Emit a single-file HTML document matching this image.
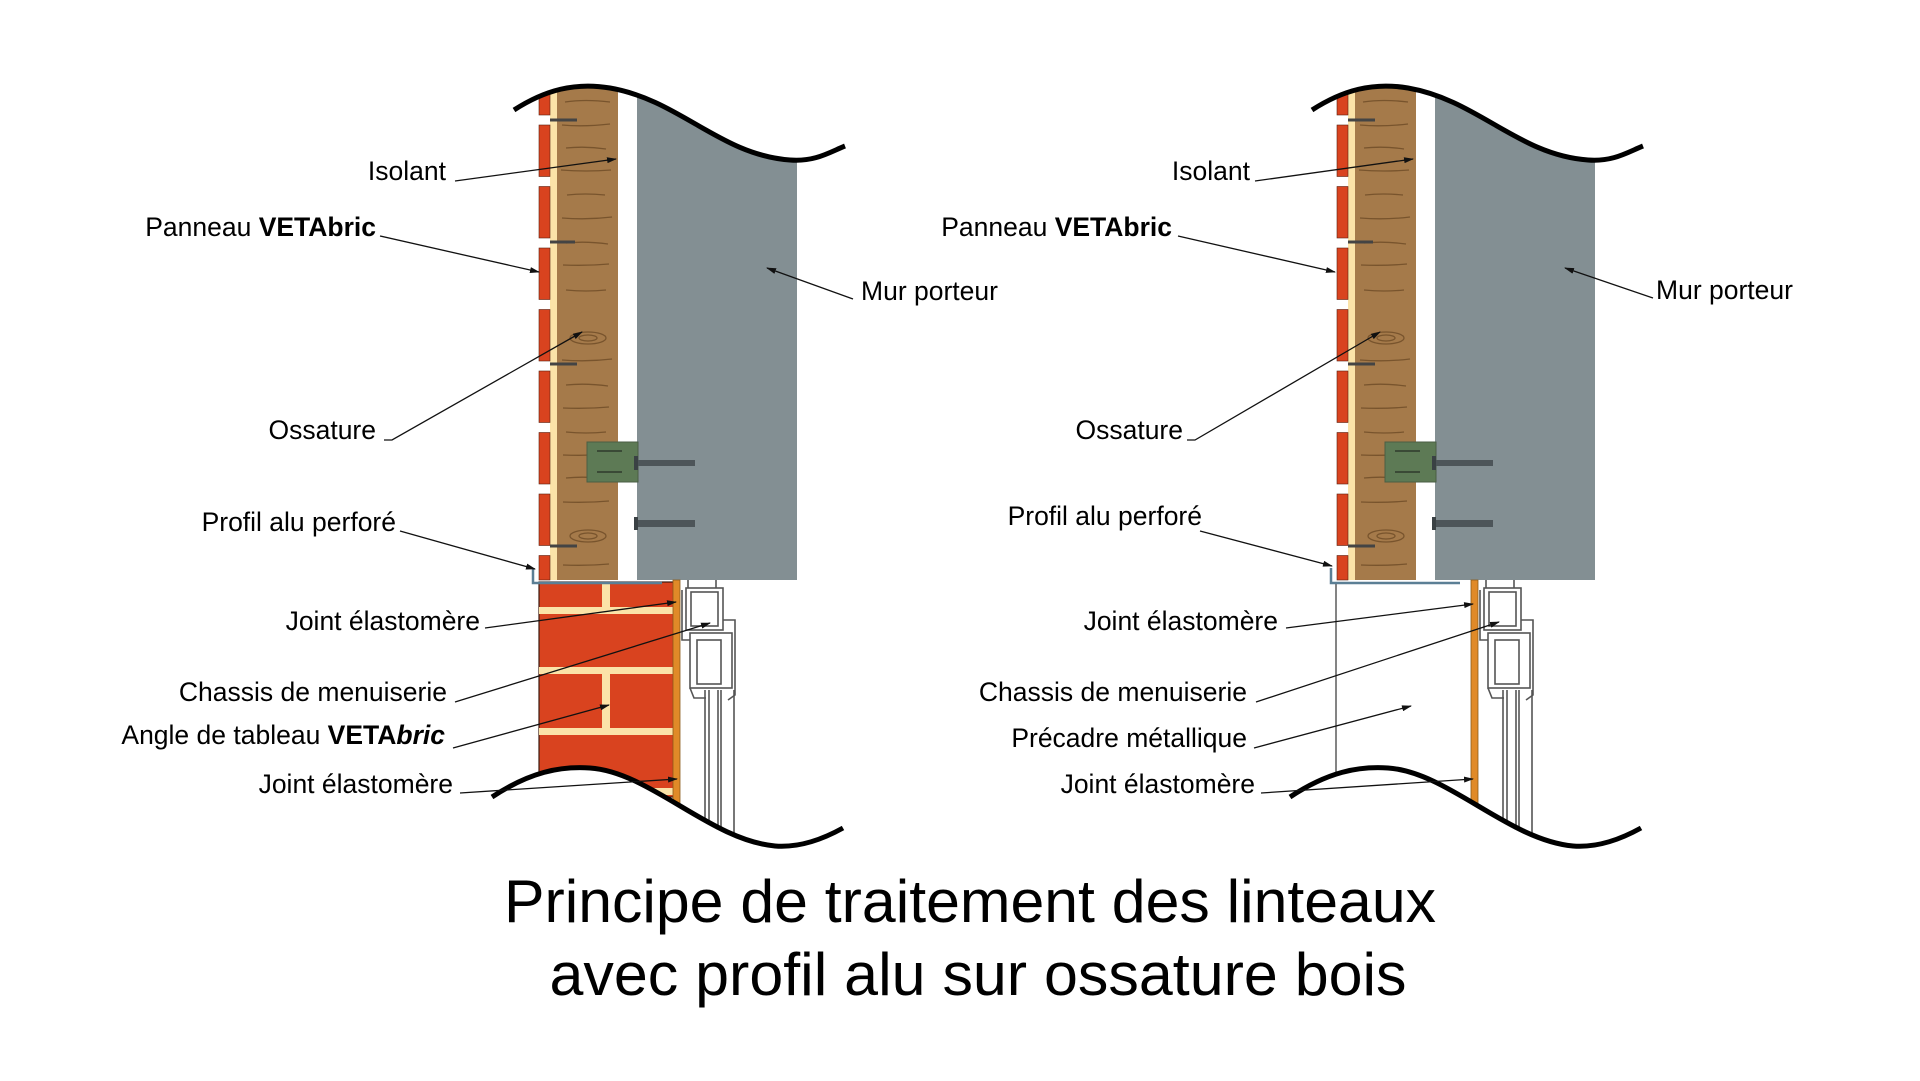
<!DOCTYPE html>
<html><head><meta charset="utf-8"><style>
html,body{margin:0;padding:0;background:#fff;}
svg{display:block;}
text{font-family:"Liberation Sans",Arial,sans-serif;fill:#000;}
</style></head><body>
<svg width="1920" height="1081" viewBox="0 0 1920 1081" xmlns="http://www.w3.org/2000/svg">
<defs>
<marker id="ar" markerWidth="10" markerHeight="6" refX="9" refY="3" orient="auto" markerUnits="userSpaceOnUse">
<path d="M0,0 L10,3 L0,6 Z" fill="#111"/>
</marker>
<g id="wall">
  <rect x="637" y="80" width="160" height="500" fill="#838f93"/>
  <rect x="618" y="80" width="19" height="500" fill="#fff"/>
  <rect x="557" y="80" width="61" height="500" fill="#a57a4a"/>
  <g stroke="#6e4b26" stroke-width="1.3" fill="none" opacity="0.8">
    <path d="M565,102 q20,-3 45,0"/><path d="M562,125 q22,2 48,-1"/><path d="M566,148 q20,-2 40,1"/>
    <path d="M561,170 q25,2 50,0"/><path d="M567,195 q18,-2 38,0"/><path d="M562,218 q25,2 50,-1"/>
    <path d="M566,243 q20,-2 42,1"/><path d="M563,265 q24,1 46,-1"/><path d="M566,290 q20,2 40,0"/>
    <ellipse cx="588" cy="338" rx="18" ry="6"/><ellipse cx="588" cy="338" rx="9" ry="3"/>
    <path d="M562,360 q25,2 50,-1"/><path d="M566,385 q20,-2 42,1"/><path d="M563,408 q24,1 46,-1"/>
    <path d="M566,432 q20,2 40,0"/><path d="M563,455 q24,1 46,-1"/><path d="M566,478 q20,-2 42,1"/>
    <path d="M563,502 q24,1 46,-1"/>
    <ellipse cx="588" cy="536" rx="18" ry="6"/><ellipse cx="588" cy="536" rx="9" ry="3"/>
    <path d="M563,565 q24,1 46,-1"/>
  </g>
  <rect x="550" y="80" width="7" height="500" fill="#fbe3a8"/>
  <g fill="#d9431f" stroke="#5a2010" stroke-width="0.6">
    <rect x="539" y="90" width="11" height="25"/>
    <rect x="539" y="125" width="11" height="51.5"/>
    <rect x="539" y="186.5" width="11" height="51.5"/>
    <rect x="539" y="248" width="11" height="51.5"/>
    <rect x="539" y="309.5" width="11" height="51.5"/>
    <rect x="539" y="371" width="11" height="51.5"/>
    <rect x="539" y="432.5" width="11" height="51.5"/>
    <rect x="539" y="494" width="11" height="51.5"/>
    <rect x="539" y="555.5" width="11" height="24.5"/>
  </g>
  <g stroke="#444" stroke-width="3">
    <line x1="550" y1="120" x2="577" y2="120"/><line x1="550" y1="242" x2="575" y2="242"/>
    <line x1="550" y1="364" x2="577" y2="364"/><line x1="550" y1="546" x2="577" y2="546"/>
  </g>
  <rect x="587" y="442" width="51" height="40" fill="#5d7a55" stroke="#4a5e44" stroke-width="1"/>
  <g stroke="#2e3a2c" stroke-width="1.5"><line x1="597" y1="451" x2="622" y2="451"/><line x1="597" y1="472" x2="622" y2="472"/></g>
  <rect x="636" y="460" width="59" height="6" fill="#4d5559"/>
  <rect x="634" y="520" width="61" height="7" fill="#4d5559"/>
  <rect x="634" y="456" width="4" height="14" fill="#3a4144"/>
  <rect x="634" y="517" width="4" height="13" fill="#3a4144"/>
  <path d="M505,0 H860 V146 C830,152 815,162 790,160 C720,155 680,100 610,88 C575,82 545,90 514,110 L505,110 Z" fill="#fff"/>
  <path d="M514,110 C545,90 575,82 610,88 C680,100 720,155 790,160 C815,162 830,152 845,146" fill="none" stroke="#000" stroke-width="5"/>
</g>
<g id="win">
  <rect x="673" y="580" width="7" height="226" fill="#e08a28" stroke="#8a5a1a" stroke-width="0.8"/>
  <g fill="none" stroke="#555" stroke-width="1.6">
    <rect x="686" y="588" width="37" height="42"/>
    <rect x="691" y="592" width="27" height="34"/>
    <line x1="688" y1="580" x2="688" y2="588"/><line x1="716" y1="580" x2="716" y2="588"/>
    <path d="M682,590 V640 H690"/>
    <rect x="690" y="633" width="42" height="55"/>
    <rect x="697" y="640" width="24" height="44"/>
    <path d="M723,620 H735 V695 L728,700"/>
    <path d="M690,688 L694,698 H706"/>
    <line x1="705" y1="690" x2="705" y2="830"/><line x1="709" y1="690" x2="709" y2="830"/>
    <line x1="718" y1="690" x2="718" y2="830"/><line x1="721" y1="690" x2="721" y2="830"/>
    <line x1="734" y1="690" x2="734" y2="835"/>
  </g>
</g>
</defs>

<use href="#wall"/>
<rect x="539" y="582" width="135" height="215" fill="#d9431f" stroke="#3a1a10" stroke-width="1.2"/>
<g fill="#fbe3a8">
  <rect x="539" y="607" width="135" height="7"/><rect x="539" y="667" width="135" height="7"/>
  <rect x="539" y="728" width="135" height="7"/><rect x="539" y="788" width="135" height="7"/>
  <rect x="602" y="582" width="8" height="25"/><rect x="602" y="674" width="8" height="54"/>
</g>
<use href="#win"/>
<path d="M533,568 V583 H662" fill="none" stroke="#5b7f95" stroke-width="2.5"/>
<path d="M495,792 C530,772 560,766 590,768 C650,772 710,840 775,846 C800,848 825,838 842,828 L850,880 L495,880 Z" fill="#fff"/>
<path d="M492,797 C530,772 560,766 590,768 C650,772 710,840 775,846 C800,848 825,838 843,828" fill="none" stroke="#000" stroke-width="5"/>

<g transform="translate(798,0)">
  <use href="#wall"/>
  <use href="#win"/>
  <line x1="538" y1="582" x2="538" y2="774" stroke="#333" stroke-width="1.2"/>
  <path d="M533,568 V583 H662" fill="none" stroke="#5b7f95" stroke-width="2.5"/>
  <path d="M495,792 C530,772 560,766 590,768 C650,772 710,840 775,846 C800,848 825,838 842,828 L850,880 L495,880 Z" fill="#fff"/>
  <path d="M492,797 C530,772 560,766 590,768 C650,772 710,840 775,846 C800,848 825,838 843,828" fill="none" stroke="#000" stroke-width="5"/>
</g>

<g stroke="#111" stroke-width="1.3" fill="none" marker-end="url(#ar)">
  <path d="M455,181 L616,159"/>
  <path d="M380,236 L539,272"/>
  <path d="M384,440 L392,440 L582,332"/>
  <path d="M400,531 L535,569"/>
  <path d="M853,299 L767,268"/>
  <path d="M485,628 L676,602"/>
  <path d="M455,702 L710,623"/>
  <path d="M453,748 L609,705"/>
  <path d="M460,793 L677,779"/>

  <path d="M1255,181 L1413,159"/>
  <path d="M1178,236 L1335,272"/>
  <path d="M1187,440 L1195,440 L1380,332"/>
  <path d="M1200,531 L1332,566"/>
  <path d="M1653,298 L1565,268"/>
  <path d="M1286,628 L1473,604"/>
  <path d="M1256,702 L1499,622"/>
  <path d="M1254,748 L1411,706"/>
  <path d="M1261,793 L1473,779"/>
</g>

<g font-size="26.5" text-anchor="end">
  <text x="446" y="180">Isolant</text>
  <text x="376" y="236">Panneau <tspan font-weight="bold">VETAbric</tspan></text>
  <text x="376" y="439">Ossature</text>
  <text x="396" y="531">Profil alu perforé</text>
  <text x="480" y="630">Joint élastomère</text>
  <text x="447" y="701">Chassis de menuiserie</text>
  <text x="445" y="744">Angle de tableau <tspan font-weight="bold">VETA<tspan font-style="italic">bric</tspan></tspan></text>
  <text x="453" y="793">Joint élastomère</text>

  <text x="1250" y="180">Isolant</text>
  <text x="1172" y="236">Panneau <tspan font-weight="bold">VETAbric</tspan></text>
  <text x="1183" y="439">Ossature</text>
  <text x="1202" y="525">Profil alu perforé</text>
  <text x="1278" y="630">Joint élastomère</text>
  <text x="1247" y="701">Chassis de menuiserie</text>
  <text x="1247" y="747">Précadre métallique</text>
  <text x="1255" y="793">Joint élastomère</text>
</g>
<text x="861" y="300" font-size="26.5">Mur porteur</text>
<text x="1656" y="299" font-size="26.5">Mur porteur</text>

<text x="970" y="922" font-size="60" text-anchor="middle" textLength="932" lengthAdjust="spacingAndGlyphs">Principe de traitement des linteaux</text>
<text x="978" y="995" font-size="60" text-anchor="middle" textLength="857" lengthAdjust="spacingAndGlyphs">avec profil alu sur ossature bois</text>
</svg>
</body></html>
